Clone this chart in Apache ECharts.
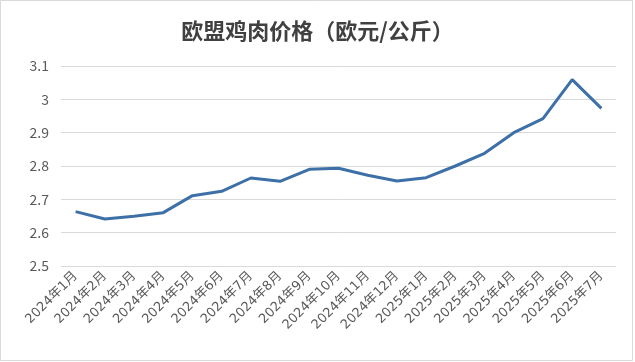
<!DOCTYPE html>
<html><head><meta charset="utf-8">
<script src="https://cdn.jsdelivr.net/npm/echarts@6/dist/echarts.min.js"></script>
<style>html,body{margin:0;padding:0;background:#fff}#c{width:635px;height:362px}</style>
</head><body><div id="c"></div>
<script>
const title = '欧盟鸡肉价格（欧元/公斤）';
const categories = ['2024年1月','2024年2月','2024年3月','2024年4月','2024年5月','2024年6月','2024年7月','2024年8月','2024年9月','2024年10月','2024年11月','2024年12月','2025年1月','2025年2月','2025年3月','2025年4月','2025年5月','2025年6月','2025年7月'];
const prices = [2.663,2.641,2.649,2.660,2.711,2.724,2.764,2.754,2.790,2.793,2.772,2.755,2.765,2.800,2.838,2.900,2.942,3.059,2.973];
const yMin = 2.5, yMax = 3.1, yStep = 0.1;

const chart = echarts.init(document.getElementById('c'));
chart.setOption({
  animation:false,
  backgroundColor:'#fff',
  graphic:[{type:'rect',shape:{x:0.5,y:0.5,width:632,height:360},style:{fill:'none',stroke:'#d9d9d9',lineWidth:1},silent:true}],
  title:{text:title,left:'center',top:15,textStyle:{fontSize:22,fontWeight:'bold',color:'#404040',fontFamily:'Noto Sans CJK SC'}},
  grid:{left:61,right:19,top:66,bottom:96},
  xAxis:{type:'category',data:categories,boundaryGap:true,
    axisLine:{show:false},axisTick:{show:false},
    axisLabel:{rotate:45,interval:0,fontSize:13,color:'#595959',margin:8,fontFamily:'DejaVu Sans, Noto Sans CJK SC'}},
  yAxis:{type:'value',min:yMin,max:yMax,interval:yStep,
    axisLine:{show:false},axisTick:{show:false},
    axisLabel:{fontSize:14,color:'#595959',margin:12,fontFamily:'Noto Sans CJK SC',formatter:v=>String(Math.round(v*10)/10)},
    splitLine:{lineStyle:{color:'#d9d9d9',width:1}}},
  series:[{type:'line',data:prices,showSymbol:false,lineStyle:{color:'#3e70a8',width:3},itemStyle:{color:'#3e70a8'}}]
});
</script></body></html>
